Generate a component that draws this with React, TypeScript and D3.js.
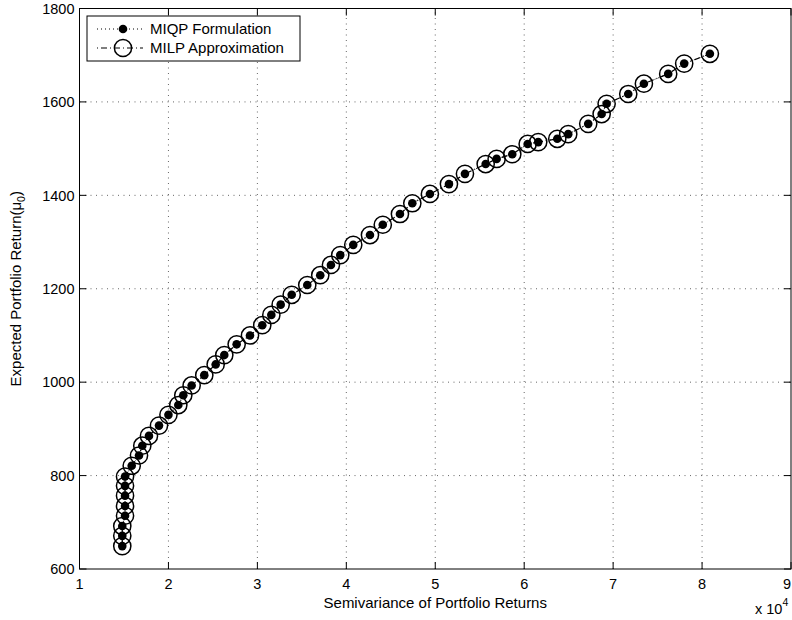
import React from 'react'
import * as d3 from 'd3'

// semivariance (x 10^4) and expected return
const semivar = [
  1.481, 1.481, 1.481, 1.512, 1.512, 1.512, 1.512, 1.512, 1.587, 1.669,
  1.706, 1.781, 1.894, 2.0, 2.111, 2.167, 2.261, 2.403, 2.531, 2.628,
  2.767, 2.917, 3.055, 3.157, 3.262, 3.386, 3.561, 3.707, 3.827, 3.932,
  4.078, 4.266, 4.41, 4.603, 4.742, 4.94, 5.154, 5.334, 5.567, 5.69,
  5.866, 6.039, 6.158, 6.372, 6.495, 6.72, 6.871, 6.927, 7.17, 7.346,
  7.619, 7.799, 8.088,
]
const expReturn = [
  649, 671, 692, 714, 735, 757, 778, 798, 821, 843,
  864, 885, 907, 930, 951, 972, 993, 1015, 1038, 1058,
  1081, 1100, 1122, 1144, 1166, 1187, 1208, 1229, 1251, 1272,
  1294, 1315, 1337, 1360, 1383, 1403, 1424, 1446, 1467, 1478,
  1488, 1510, 1514, 1521, 1531, 1553, 1574, 1596, 1617, 1639,
  1660, 1682, 1703,
]
const miqp = semivar.map((x, i) => ({ x, y: expReturn[i] }))
const milp = semivar.map((x, i) => ({ x, y: expReturn[i] }))

const xTicks = [1, 2, 3, 4, 5, 6, 7, 8, 9]
const yTicks = [600, 800, 1000, 1200, 1400, 1600, 1800]
const legendLabels = ['MIQP Formulation', 'MILP Approximation']

const W = 792
const H = 620
const margin = { left: 79.5, right: 1, top: 8.5, bottom: 51 }
const font = 'Liberation Sans, Arial, Helvetica, sans-serif'

export default function App() {
  const x = d3.scaleLinear().domain([1, 9]).range([margin.left, W - margin.right])
  const y = d3.scaleLinear().domain([600, 1800]).range([H - margin.bottom, margin.top])
  const line = d3.line<{ x: number; y: number }>().x(d => x(d.x)).y(d => y(d.y))
  const [x0, x1] = x.range()
  const [y0, y1] = y.range()
  const tick = 7

  return (
    <svg width={W} height={H} style={{ position: 'absolute', left: 0, top: 0, background: '#fff' }}
      fontFamily={font}>
      <rect x={0} y={0} width={W} height={H} fill="#fff" />

      {/* grid */}
      {xTicks.slice(1, -1).map(t => (
        <line key={'gx' + t} x1={x(t)} x2={x(t)} y1={y0} y2={y1}
          stroke="#666" strokeWidth={1} strokeDasharray="1,4.5" />
      ))}
      {yTicks.slice(1, -1).map(t => (
        <line key={'gy' + t} x1={x0} x2={x1} y1={y(t)} y2={y(t)}
          stroke="#666" strokeWidth={1} strokeDasharray="1,4.5" />
      ))}

      {/* ticks */}
      {xTicks.map((t, i) => (
        <g key={'tx' + t}>
          <line x1={x(t)} x2={x(t)} y1={y0} y2={y0 - tick} stroke="#000" />
          <line x1={x(t)} x2={x(t)} y1={y1} y2={y1 + tick} stroke="#000" />
          <text x={i === xTicks.length - 1 ? W - 1 : x(t)} y={y0 + 20} fontSize={14.5}
            textAnchor={i === xTicks.length - 1 ? 'end' : 'middle'}>{t}</text>
        </g>
      ))}
      {yTicks.map(t => (
        <g key={'ty' + t}>
          <line x1={x0} x2={x0 + tick} y1={y(t)} y2={y(t)} stroke="#000" />
          <line x1={x1} x2={x1 - tick} y1={y(t)} y2={y(t)} stroke="#000" />
          <text x={x0 - 5} y={y(t)} dy="0.36em" fontSize={14.5} textAnchor="end">{t}</text>
        </g>
      ))}

      {/* series */}
      <path d={line(miqp) || ''} fill="none" stroke="#000" strokeWidth={1} strokeDasharray="1,3" />
      <path d={line(milp) || ''} fill="none" stroke="#000" strokeWidth={1.2} strokeDasharray="6,3,1,3" />
      {milp.map((d, i) => (
        <circle key={'c' + i} cx={x(d.x)} cy={y(d.y)} r={8.6} fill="none" stroke="#000" strokeWidth={1.5} />
      ))}
      {miqp.map((d, i) => (
        <circle key={'d' + i} cx={x(d.x)} cy={y(d.y)} r={4.3} fill="#000" />
      ))}

      {/* frame */}
      <rect x={x0} y={y1} width={x1 - x0} height={y0 - y1} fill="none" stroke="#000" strokeWidth={1} />

      {/* axis labels */}
      <text x={(x0 + x1) / 2} y={608} fontSize={15} textAnchor="middle">Semivariance of Portfolio Returns</text>
      <text x={755} y={614} fontSize={14.5}>x 10<tspan dy={-8} fontSize={10.5}>4</tspan></text>
      <text transform={`translate(21,${(y0 + y1) / 2}) rotate(-90)`} fontSize={15} textAnchor="middle">
        Expected Portfolio Return(μ<tspan dy={4} fontSize={10.5}>0</tspan><tspan dy={-4}>)</tspan>
      </text>

      {/* legend */}
      <g>
        <rect x={87} y={16} width={213} height={45} fill="#fff" stroke="#000" strokeWidth={1} />
        <line x1={97} x2={143} y1={29} y2={29} stroke="#000" strokeDasharray="1,3" />
        <circle cx={123} cy={29} r={4.3} fill="#000" />
        <text x={150} y={29} dy="0.36em" fontSize={15}>{legendLabels[0]}</text>
        <line x1={97} x2={143} y1={48} y2={48} stroke="#000" strokeWidth={1.2} strokeDasharray="1,3,6,3" />
        <circle cx={123} cy={48} r={8.6} fill="none" stroke="#000" strokeWidth={1.5} />
        <text x={150} y={48} dy="0.36em" fontSize={15}>{legendLabels[1]}</text>
      </g>
    </svg>
  )
}
